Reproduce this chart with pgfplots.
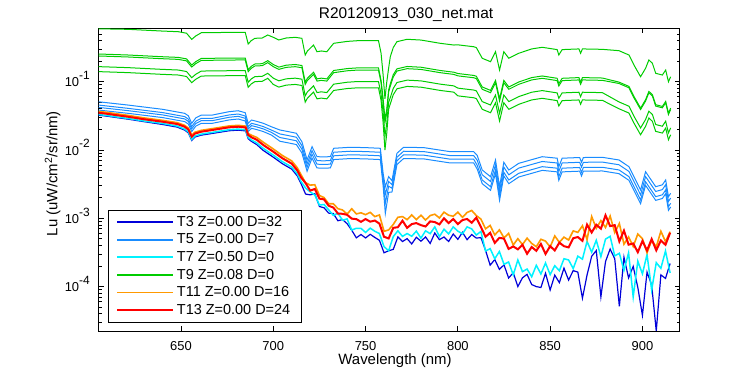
\documentclass[border=0pt]{standalone}
\usepackage{pgfplots}
\pgfplotsset{compat=1.18}
\usepackage{pgfplotstable}
\usepackage{fontspec}
\setmainfont{Liberation Sans}
\definecolor{cTthree}{rgb}{0,0,0.85}
\definecolor{cTfive}{rgb}{0.1,0.55,1}
\definecolor{cTseven}{rgb}{0,0.95,1}
\definecolor{cTnine}{rgb}{0,0.8,0}
\definecolor{cTeleven}{rgb}{1,0.6,0}
\definecolor{cTthirteen}{rgb}{1,0,0}
\newcommand\tp[1]{10\raisebox{1.05ex}{\fontsize{12}{12}\selectfont #1}}

% values are log10 of Lu (uW/cm^2/sr/nm)
\pgfplotstableread{
x g1 g2 g3 g4 g5
605 -0.225 -0.594 -0.623 -0.779 -0.852
621.3 -0.233 -0.609 -0.638 -0.794 -0.867
639.6 -0.258 -0.634 -0.663 -0.819 -0.892
648.5 -0.268 -0.644 -0.673 -0.829 -0.902
653 -0.29 -0.666 -0.695 -0.851 -0.924
655.8 -0.38 -0.756 -0.785 -0.941 -1.014
658 -0.33 -0.706 -0.735 -0.891 -0.964
661 -0.283 -0.659 -0.688 -0.844 -0.917
670 -0.28 -0.656 -0.685 -0.841 -0.914
680 -0.277 -0.653 -0.682 -0.838 -0.911
684.8 -0.277 -0.653 -0.682 -0.838 -0.911
686.4 -0.448 -0.824 -0.853 -1.009 -1.082
688 -0.40 -0.776 -0.805 -0.961 -1.034
690 -0.365 -0.741 -0.770 -0.926 -0.999
694 -0.36 -0.736 -0.765 -0.921 -0.994
697 -0.316 -0.692 -0.721 -0.877 -0.950
700 -0.35 -0.748 -0.78 -0.948 -1.04
703 -0.389 -0.787 -0.819 -0.987 -1.079
707 -0.36 -0.758 -0.79 -0.958 -1.05
711.9 -0.35 -0.748 -0.78 -0.948 -1.04
715.5 -0.365 -0.763 -0.795 -0.963 -1.055
717.3 -0.609 -1.007 -1.039 -1.207 -1.299
718.5 -0.55 -0.948 -0.98 -1.148 -1.24
720 -0.511 -0.909 -0.941 -1.109 -1.201
721.8 -0.463 -0.861 -0.893 -1.061 -1.153
723.7 -0.561 -0.959 -0.991 -1.159 -1.251
726 -0.55 -0.948 -0.98 -1.148 -1.24
729 -0.561 -0.959 -0.991 -1.159 -1.251
732.7 -0.438 -0.836 -0.868 -1.036 -1.128
740 -0.41 -0.808 -0.84 -1.008 -1.10
745.4 -0.40 -0.798 -0.83 -0.998 -1.09
757 -0.40 -0.798 -0.83 -0.998 -1.09
758.4 -0.584 -0.982 -1.014 -1.182 -1.274
759.5 -0.9 -1.25 -1.3 -1.45 -1.6
760.5 -1.25 -1.55 -1.6 -1.8 -2.0
761.5 -1.0 -1.4 -1.45 -1.6 -1.75
762.5 -0.8 -1.12 -1.15 -1.3 -1.4
763.4 -0.634 -1.032 -1.064 -1.232 -1.324
765 -0.5 -0.898 -0.93 -1.098 -1.19
767 -0.414 -0.812 -0.844 -1.012 -1.104
772.5 -0.379 -0.777 -0.809 -0.977 -1.069
780 -0.39 -0.788 -0.82 -0.988 -1.08
790.5 -0.438 -0.836 -0.868 -1.036 -1.128
797.8 -0.463 -0.861 -0.893 -1.061 -1.153
800 -0.46 -0.88 -0.914 -1.094 -1.207
803 -0.47 -0.89 -0.924 -1.104 -1.217
808.6 -0.488 -0.908 -0.942 -1.122 -1.235
810 -0.50 -0.92 -0.954 -1.134 -1.247
813.2 -0.657 -1.077 -1.111 -1.291 -1.404
817.7 -0.707 -1.127 -1.161 -1.341 -1.454
820.4 -0.561 -0.981 -1.015 -1.195 -1.308
822.6 -0.829 -1.249 -1.283 -1.463 -1.576
824.9 -0.561 -0.981 -1.015 -1.195 -1.308
827.6 -0.657 -1.077 -1.111 -1.291 -1.404
833 -0.584 -1.004 -1.038 -1.218 -1.331
840 -0.52 -0.94 -0.974 -1.154 -1.267
845.7 -0.496 -0.916 -0.95 -1.13 -1.243
853.8 -0.53 -0.95 -0.984 -1.164 -1.277
854.7 -0.609 -1.029 -1.063 -1.243 -1.356
856.5 -0.53 -0.95 -0.984 -1.164 -1.277
865.6 -0.52 -0.94 -0.974 -1.154 -1.267
866.5 -0.584 -1.004 -1.038 -1.218 -1.331
867.5 -0.52 -0.94 -0.974 -1.154 -1.267
878.3 -0.526 -0.946 -0.98 -1.16 -1.273
887.3 -0.546 -1.006 -1.026 -1.296 -1.396
892.7 -0.609 -1.069 -1.089 -1.359 -1.459
895.4 -0.755 -1.215 -1.235 -1.505 -1.605
899 -0.927 -1.387 -1.407 -1.677 -1.777
901.7 -0.804 -1.264 -1.284 -1.554 -1.654
903.5 -0.682 -1.142 -1.162 -1.432 -1.532
905.4 -0.73 -1.19 -1.21 -1.48 -1.58
907.2 -0.877 -1.337 -1.357 -1.627 -1.727
910.8 -0.902 -1.362 -1.382 -1.652 -1.752
912.6 -0.829 -1.289 -1.309 -1.579 -1.679
914.1 -1.0 -1.46 -1.48 -1.75 -1.85
915.3 -0.927 -1.387 -1.407 -1.677 -1.777
}\grn

\pgfplotstableread{
x b1 b2 b3 b4
605 -1.293 -1.341 -1.375 -1.414
621 -1.341 -1.389 -1.423 -1.462
640 -1.404 -1.452 -1.486 -1.525
652 -1.463 -1.511 -1.545 -1.584
654 -1.50 -1.548 -1.582 -1.621
655.8 -1.609 -1.657 -1.691 -1.73
658 -1.53 -1.578 -1.612 -1.651
661 -1.488 -1.536 -1.57 -1.609
667 -1.488 -1.536 -1.57 -1.609
676 -1.439 -1.487 -1.521 -1.56
681 -1.425 -1.473 -1.507 -1.546
684.8 -1.454 -1.502 -1.536 -1.575
686.4 -1.609 -1.657 -1.691 -1.73
688.2 -1.561 -1.609 -1.643 -1.682
691 -1.58 -1.628 -1.662 -1.701
694.6 -1.609 -1.657 -1.691 -1.73
699 -1.66 -1.708 -1.742 -1.781
703.6 -1.707 -1.765 -1.817 -1.872
708 -1.73 -1.788 -1.84 -1.895
712.5 -1.755 -1.813 -1.865 -1.92
715.5 -1.878 -1.936 -1.988 -2.043
718.3 -2.146 -2.204 -2.256 -2.311
721 -1.952 -2.01 -2.062 -2.117
723.7 -2.098 -2.156 -2.208 -2.263
727 -2.10 -2.158 -2.21 -2.265
730.9 -2.098 -2.156 -2.208 -2.263
732.7 -1.975 -2.033 -2.085 -2.14
741.7 -1.96 -2.018 -2.07 -2.125
750 -1.965 -2.023 -2.075 -2.13
758 -1.975 -2.033 -2.085 -2.14
759.5 -2.341 -2.40 -2.46 -2.52
760.7 -2.537 -2.65 -2.78 -2.93
762.5 -2.39 -2.46 -2.53 -2.62
764.3 -2.45 -2.508 -2.56 -2.615
767 -2.048 -2.106 -2.158 -2.213
770.6 -1.96 -2.018 -2.07 -2.125
781.5 -1.965 -2.023 -2.075 -2.13
796 -2.025 -2.083 -2.135 -2.19
808.6 -2.025 -2.083 -2.135 -2.19
810.5 -2.08 -2.15 -2.226 -2.28
813.2 -2.293 -2.363 -2.439 -2.493
817.7 -2.391 -2.461 -2.537 -2.591
820.4 -2.146 -2.216 -2.292 -2.346
822.6 -2.537 -2.607 -2.683 -2.737
824.9 -2.18 -2.25 -2.326 -2.38
827.6 -2.293 -2.363 -2.439 -2.493
833 -2.195 -2.265 -2.341 -2.395
845.7 -2.098 -2.168 -2.244 -2.298
853.8 -2.12 -2.19 -2.266 -2.32
854.7 -2.244 -2.314 -2.39 -2.444
856.5 -2.12 -2.19 -2.266 -2.32
866 -2.11 -2.18 -2.256 -2.31
867 -2.18 -2.25 -2.326 -2.38
868 -2.11 -2.18 -2.256 -2.31
878.3 -2.107 -2.177 -2.253 -2.307
887.3 -2.146 -2.216 -2.292 -2.346
892.7 -2.244 -2.314 -2.39 -2.444
896.3 -2.439 -2.509 -2.585 -2.639
899 -2.586 -2.656 -2.732 -2.786
901.7 -2.318 -2.388 -2.464 -2.518
903.5 -2.39 -2.46 -2.536 -2.59
907.2 -2.537 -2.607 -2.683 -2.737
910.8 -2.51 -2.58 -2.656 -2.71
912.6 -2.439 -2.509 -2.585 -2.639
914.1 -2.684 -2.754 -2.83 -2.884
915.3 -2.634 -2.704 -2.78 -2.834
}\blu

\pgfplotstableread{
x r o c b
605 -1.454 -1.434 -1.479 -1.489
610 -1.470 -1.450 -1.495 -1.505
615 -1.490 -1.470 -1.515 -1.525
621 -1.512 -1.492 -1.537 -1.547
630 -1.550 -1.530 -1.575 -1.585
640 -1.586 -1.566 -1.611 -1.626
648 -1.620 -1.600 -1.650 -1.665
652 -1.659 -1.639 -1.694 -1.709
654 -1.700 -1.680 -1.735 -1.750
655.8 -1.805 -1.785 -1.845 -1.860
657.5 -1.760 -1.740 -1.795 -1.810
661 -1.732 -1.712 -1.767 -1.782
667 -1.707 -1.687 -1.742 -1.757
676 -1.668 -1.648 -1.703 -1.718
681 -1.659 -1.639 -1.694 -1.709
685 -1.670 -1.650 -1.705 -1.720
686.4 -1.780 -1.760 -1.815 -1.835
688.2 -1.814 -1.784 -1.854 -1.874
691 -1.850 -1.815 -1.895 -1.920
694.6 -1.927 -1.887 -1.977 -2.007
700 -2.025 -1.985 -2.075 -2.105
705 -2.122 -2.082 -2.172 -2.202
710 -2.200 -2.160 -2.250 -2.280
713 -2.300 -2.260 -2.350 -2.380
715 -2.400 -2.360 -2.460 -2.490
717.5 -2.485 -2.480 -2.557 -2.645
720 -2.594 -2.514 -2.613 -2.657
722.5 -2.571 -2.509 -2.659 -2.640
725 -2.712 -2.665 -2.806 -2.827
727.5 -2.723 -2.697 -2.798 -2.846
730 -2.816 -2.787 -2.876 -2.924
732.5 -2.842 -2.786 -2.957 -2.929
735 -2.930 -2.859 -2.925 -3.036
737.5 -2.934 -2.878 -3.028 -3.018
740 -2.949 -2.938 -3.009 -3.079
742.5 -3.005 -2.860 -3.171 -3.175
745 -3.012 -2.936 -3.146 -3.286
747.5 -3.052 -2.919 -3.147 -3.237
750 -3.011 -2.947 -3.207 -3.288
752.5 -3.049 -2.913 -3.144 -3.234
755 -3.033 -2.975 -3.190 -3.280
757.5 -3.078 -2.951 -3.223 -3.322
760 -3.270 -3.190 -3.415 -3.505
762.5 -3.295 -3.170 -3.475 -3.475
765 -3.140 -3.090 -3.268 -3.455
767.5 -3.130 -2.985 -3.183 -3.273
770 -3.035 -2.975 -3.265 -3.340
772.5 -3.140 -3.020 -3.223 -3.298
775 -3.085 -2.950 -3.263 -3.375
777.5 -3.070 -3.020 -3.188 -3.278
780 -3.100 -2.955 -3.290 -3.335
782.5 -3.120 -3.025 -3.183 -3.273
785 -3.045 -2.960 -3.225 -3.368
787.5 -3.055 -2.940 -3.125 -3.215
790 -3.090 -2.995 -3.268 -3.313
792.5 -3.000 -2.910 -3.160 -3.273
795 -3.070 -2.955 -3.228 -3.340
797.5 -3.010 -2.970 -3.125 -3.230
800 -3.085 -2.910 -3.188 -3.308
802.5 -3.025 -2.985 -3.228 -3.205
805 -3.010 -2.915 -3.125 -3.313
807.5 -3.065 -2.885 -3.155 -3.238
810 -2.990 -2.960 -3.245 -3.290
812.5 -3.128 -3.012 -3.192 -3.282
815 -3.270 -3.154 -3.478 -3.470
817.5 -3.212 -3.104 -3.444 -3.686
820 -3.360 -3.244 -3.592 -3.604
822.5 -3.286 -3.170 -3.486 -3.748
825 -3.298 -3.286 -3.674 -3.682
827.5 -3.448 -3.220 -3.640 -3.874
830 -3.412 -3.392 -3.828 -3.798
832.5 -3.454 -3.298 -3.610 -4.000
835 -3.389 -3.385 -3.781 -3.871
837.5 -3.519 -3.291 -3.743 -3.821
840 -3.420 -3.368 -3.856 -3.970
842.5 -3.476 -3.416 -3.688 -4.000
845 -3.375 -3.307 -3.815 -4.013
847.5 -3.522 -3.334 -3.654 -3.804
850 -3.408 -3.420 -3.824 -4.050
852.5 -3.470 -3.258 -3.694 -3.832
855 -3.356 -3.352 -3.768 -3.942
857.5 -3.408 -3.276 -3.592 -3.730
860 -3.426 -3.318 -3.610 -3.904
862.5 -3.292 -3.184 -3.736 -3.766
865 -3.274 -3.206 -3.554 -3.788
867.5 -3.330 -3.110 -3.598 -4.170
870 -3.092 -3.310 -3.338 -3.830
872.5 -3.208 -2.974 -3.496 -3.556
875 -3.094 -3.147 -3.322 -3.472
877.5 -3.152 -3.034 -3.560 -4.150
880 -2.956 -3.135 -3.304 -3.634
882.5 -3.114 -2.966 -3.264 -3.450
885 -3.100 -3.208 -3.550 -3.592
887.5 -3.338 -3.075 -3.512 -4.290
890 -3.180 -3.379 -3.762 -3.570
892.5 -3.386 -3.273 -3.506 -3.872
895 -3.368 -3.412 -4.150 -3.704
897.5 -3.496 -3.230 -3.628 -4.012
900 -3.333 -3.297 -3.813 -4.420
902.5 -3.470 -3.505 -3.530 -3.788
905 -3.304 -3.323 -4.050 -3.976
907.5 -3.469 -3.417 -3.649 -4.650
910 -3.324 -3.190 -3.732 -3.828
912.5 -3.388 -3.341 -3.478 -3.880
915 -3.212 -3.196 -3.800 -3.662
}\low

\begin{document}
\begin{tikzpicture}
\path[use as bounding box] (-98.7bp,-44bp) rectangle (651.3bp,331bp);
\begin{axis}[
  at={(0,0)}, anchor=south west,
  scale only axis, width=581bp, height=302.7bp,
  xmin=605.4, xmax=920.2, ymin=-4.65, ymax=-0.218,
  xtick={650,700,750,800,850,900},
  xticklabels={650,700,750,800,850,900},
  ytick={-4,-3,-2,-1},
  yticklabels={\tp{-4},\tp{-3},\tp{-2},\tp{-1}},
  minor ytick={-4.523,-4.398,-4.301,-4.222,-4.155,-4.097,-4.046,
    -3.699,-3.523,-3.398,-3.301,-3.222,-3.155,-3.097,-3.046,
    -2.699,-2.523,-2.398,-2.301,-2.222,-2.155,-2.097,-2.046,
    -1.699,-1.523,-1.398,-1.301,-1.222,-1.155,-1.097,-1.046,
    -0.699,-0.523,-0.398,-0.301},
  tick align=inside,
  major tick length=5bp, minor tick length=3bp,
  axis line style={line width=0.8bp, black},
  tick style={line width=0.8bp, black},
  xticklabel style={font=\fontsize{13}{13}\selectfont, inner sep=0pt, anchor=base, yshift=-19bp},
  yticklabel style={font=\fontsize{13}{13}\selectfont, inner sep=0pt, anchor=base east, yshift=-5bp, xshift=-8.7bp},
  xlabel={Wavelength (nm)},
  ylabel={Lu (uW/cm\textsuperscript{2}/sr/nm)},
  title={R20120913\_030\_net.mat},
  every axis x label/.style={at={(axis description cs:0.51,0)}, anchor=base, yshift=-33bp, font=\fontsize{15}{15}\selectfont},
  every axis y label/.style={at={(axis description cs:-0.0792,0.52)}, rotate=90, anchor=center, font=\fontsize{15}{15}\selectfont},
  every axis title/.style={at={(axis description cs:0.529,1)}, anchor=base, yshift=10bp, font=\fontsize{15.5}{15.5}\selectfont},
  legend cell align=left,
  legend image code/.code={\draw[#1] (0bp,0bp) -- (56bp,0bp);},
  legend style={at={(axis description cs:0.016,0.0297)}, anchor=south west,
    font=\fontsize{14.5}{14.5}\selectfont,
    inner xsep=8bp, inner ysep=5bp, row sep=4bp,
    nodes={inner xsep=3bp, inner ysep=1bp}},
]
\addlegendimage{cTthree, line width=1.8bp}
\addlegendentry{T3 Z=0.00 D=32}
\addlegendimage{cTfive, line width=1.8bp}
\addlegendentry{T5 Z=0.00 D=7}
\addlegendimage{cTseven, line width=1.8bp}
\addlegendentry{T7 Z=0.50 D=0}
\addlegendimage{cTnine, line width=1.8bp}
\addlegendentry{T9 Z=0.08 D=0}
\addlegendimage{cTeleven, line width=1.8bp}
\addlegendentry{T11 Z=0.00 D=16}
\addlegendimage{cTthirteen, line width=1.8bp}
\addlegendentry{T13 Z=0.00 D=24}
\addplot[cTthree, line width=1.2bp, forget plot] table[x=x,y=b]{\low};
\addplot[cTfive, line width=1bp, forget plot] table[x=x,y=b1]{\blu};
\addplot[cTfive, line width=1bp, forget plot] table[x=x,y=b2]{\blu};
\addplot[cTfive, line width=1bp, forget plot] table[x=x,y=b3]{\blu};
\addplot[cTfive, line width=1bp, forget plot] table[x=x,y=b4]{\blu};
\addplot[cTseven, line width=1.5bp, forget plot] table[x=x,y=c]{\low};
\addplot[cTnine, line width=1bp, forget plot] table[x=x,y=g1]{\grn};
\addplot[cTnine, line width=1bp, forget plot] table[x=x,y=g2]{\grn};
\addplot[cTnine, line width=1bp, forget plot] table[x=x,y=g3]{\grn};
\addplot[cTnine, line width=1bp, forget plot] table[x=x,y=g4]{\grn};
\addplot[cTnine, line width=1bp, forget plot] table[x=x,y=g5]{\grn};
\addplot[cTeleven, line width=1.6bp, forget plot] table[x=x,y=o]{\low};
\addplot[cTthirteen, line width=2bp, forget plot] table[x=x,y=r]{\low};
\end{axis}
\end{tikzpicture}
\end{document}
